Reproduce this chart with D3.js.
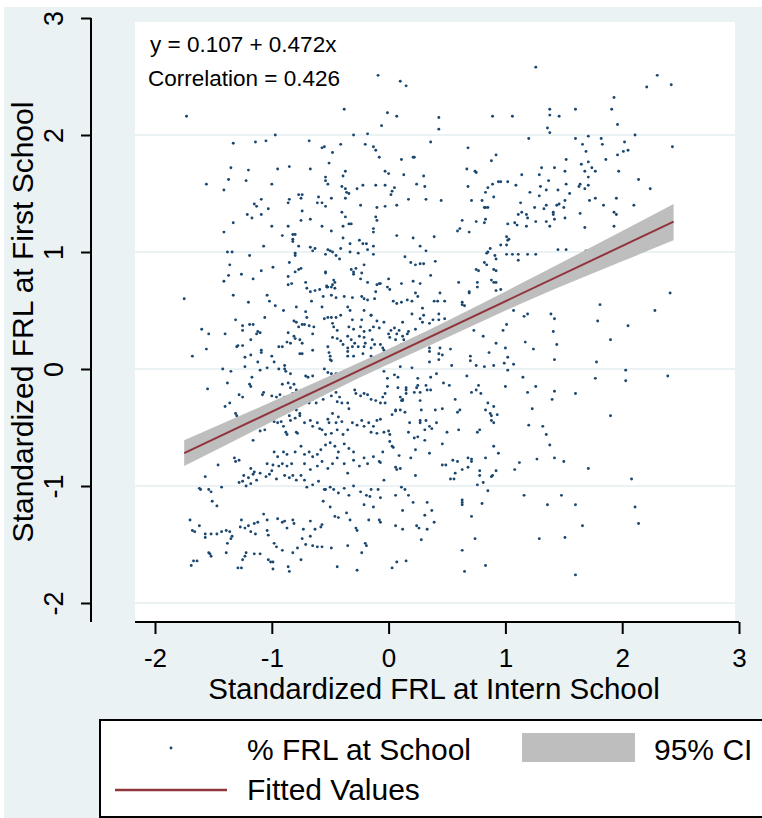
<!DOCTYPE html>
<html>
<head>
<meta charset="utf-8">
<script src="https://cdn.jsdelivr.net/npm/d3@7"></script>
<style>
  body { margin: 0; background: #fff; }
  text { font-family: "Liberation Sans", Arial, sans-serif; fill: #000; }
</style>
</head>
<body>
<div id="viz"></div>
<script>
// tick values
var xTicks = [-2, -1, 0, 1, 2, 3];
var yTicks = [-2, -1, 0, 1, 2, 3];
var gridTicks = [-2, -1, 0, 1, 2];

// fitted line  y = 0.107 + 0.472x
var fitX = [-1.75, 2.44];
var fitY = [-0.719, 1.259];

// 95% CI band
var ciX  = [-1.75, -1.0, -0.25, 0.5, 1.25, 2.0, 2.44];
var ciLo = [-0.83, -0.45, -0.075, 0.27, 0.61, 0.92, 1.10];
var ciHi = [-0.61, -0.28, 0.055, 0.41, 0.79, 1.18, 1.41];

var annotations = ['y = 0.107 + 0.472x', 'Correlation = 0.426'];
var legendLabels = ['% FRL at School', '95% CI', 'Fitted Values'];

// % FRL at school (intern school, first school), standardized
var points = [
[-1.73,2.16],[-0.38,2.22],[-0.97,2.0],[-0.30,2.0],[-1.33,1.93],[-1.14,1.94],[-1.05,1.95],[-0.68,1.95],[-0.57,1.89],[-0.55,1.90],
[-0.41,1.92],[-0.48,1.85],[-0.51,1.76],[-1.35,1.72],[-1.20,1.70],[-0.95,1.71],[-0.85,1.73],[-0.67,1.71],[-0.37,1.69],[-0.39,1.65],
[-1.37,1.62],[-1.22,1.61],[-1.56,1.58],[-1.0,1.58],[-0.54,1.64],[-0.54,1.61],[-0.52,1.58],[-1.41,1.53],[-0.40,1.56],[-0.37,1.54],
[-0.36,1.51],[-0.34,1.50],[-0.27,1.54],[-0.77,1.49],[-0.74,1.49],[-1.09,1.45],[-1.15,1.41],[-1.13,1.39],[-1.03,1.37],[-0.86,1.42],
[-0.85,1.45],[-0.75,1.46],[-0.60,1.47],[-0.61,1.42],[-0.57,1.42],[-0.54,1.39],[-0.49,1.46],[-0.37,1.46],[-1.21,1.32],[-1.09,1.32],
[-1.17,1.29],[-1.33,1.25],[-0.74,1.35],[-0.75,1.27],[-0.67,1.28],[-0.40,1.34],[-0.37,1.30],[-1.0,1.22],[-0.86,1.22],[-0.57,1.22],
[-0.39,1.22],[-0.34,1.24],[-0.32,1.24],
[1.26,2.58],[-0.09,2.51],[0.10,2.46],[0.15,2.42],[-0.01,2.19],[0.07,2.16],[-0.06,2.08],[0.43,2.15],[0.43,2.05],[0.89,2.16],
[1.06,2.16],[1.38,2.22],[1.38,2.17],[1.46,2.16],[1.36,2.06],[1.38,2.02],[-0.18,2.01],[-0.20,1.92],[-0.13,1.90],[-0.11,1.87],
[-0.08,1.81],[0.36,1.94],[0.68,1.89],[1.20,1.97],[0.11,1.79],[0.21,1.81],[0.22,1.81],[0.92,1.83],[0.88,1.78],[-0.03,1.69],
[0.0,1.67],[0.13,1.66],[0.30,1.65],[0.67,1.71],[0.74,1.69],[0.75,1.68],[1.14,1.66],[1.31,1.72],[1.42,1.72],[1.29,1.66],
[1.37,1.61],[-0.22,1.57],[-0.11,1.57],[-0.03,1.57],[0.05,1.55],[0.03,1.52],[0.02,1.49],[0.24,1.58],[0.31,1.56],[0.68,1.56],
[0.89,1.58],[0.94,1.60],[0.96,1.60],[1.02,1.60],[1.09,1.57],[0.85,1.55],[0.83,1.51],[0.90,1.47],[1.21,1.51],[1.30,1.56],
[1.35,1.53],[1.45,1.53],[1.29,1.48],[0.17,1.45],[0.32,1.45],[0.45,1.44],[-0.24,1.40],[-0.10,1.38],[-0.03,1.39],[0.07,1.40],
[-0.11,1.30],[-0.10,1.27],[-0.13,1.20],[0.71,1.44],[0.80,1.44],[0.82,1.38],[0.83,1.38],[0.85,1.38],[0.83,1.28],[0.82,1.25],
[0.75,1.26],[0.63,1.27],[0.61,1.20],[1.13,1.42],[1.25,1.38],[1.33,1.37],[1.35,1.40],[1.44,1.40],[1.46,1.41],[1.41,1.34],
[1.41,1.32],[1.11,1.32],[1.14,1.34],[1.18,1.32],[1.19,1.29],[1.02,1.24],[1.08,1.25],[1.10,1.23],[1.18,1.22],[1.26,1.26],
[1.35,1.26],[1.38,1.22],[1.42,1.28],
[2.30,2.51],[2.21,2.41],[2.42,2.43],[1.93,2.32],[1.60,2.22],[1.91,2.22],[1.96,2.09],[2.11,2.0],[1.60,1.97],[1.71,1.99],
[1.82,1.97],[1.83,1.92],[1.66,1.92],[1.69,1.86],[2.02,1.94],[2.01,1.86],[2.05,1.87],[1.96,1.83],[2.43,1.90],[1.52,1.79],
[1.86,1.79],[1.71,1.77],[1.65,1.75],[1.74,1.72],[1.77,1.69],[1.51,1.69],[1.68,1.69],[1.97,1.69],[1.71,1.64],[2.14,1.62],
[1.52,1.58],[1.64,1.58],[1.63,1.56],[1.71,1.57],[1.68,1.54],[2.24,1.54],[1.55,1.50],[1.72,1.44],[1.77,1.46],[1.95,1.46],
[1.51,1.44],[1.84,1.40],[2.10,1.40],[1.50,1.38],[1.64,1.33],[1.93,1.34],[1.95,1.32],[1.51,1.29],[1.68,1.21],[1.93,1.22],
[1.52,1.02],[1.69,1.01],[2.41,0.65],[1.81,0.55],[2.28,0.50],[1.79,0.41],[2.05,0.37],
[1.90,0.25],[1.78,0.06],[2.03,-0.01],[1.77,-0.08],[2.03,-0.10],[2.39,-0.06],[1.60,-0.21],[1.90,-0.40],[1.50,-0.79],[1.71,-0.85],
[2.08,-0.94],[1.48,-1.08],[1.60,-1.16],[2.11,-1.18],[2.14,-1.32],[1.66,-1.34],[1.51,-1.44],[1.60,-1.76],
[1.00,-0.15],[1.26,-0.15],[1.19,-0.20],[1.42,-0.19],[1.40,-0.26],[1.23,-0.34],[1.20,-0.48],[1.32,-0.49],[1.35,-0.56],[1.38,-0.65],
[1.27,-0.77],[1.42,-0.76],[1.12,-0.80],[1.08,-0.86],[1.16,-1.08],[1.36,-1.16],[1.29,-1.45],[0.77,-0.14],[0.52,-0.14],[0.47,-0.12],
[0.75,-0.18],[0.71,-0.20],[0.79,-0.21],[0.57,-0.26],[0.85,-0.29],[0.90,-0.32],[0.83,-0.35],[0.87,-0.38],[0.88,-0.40],[0.93,-0.39],
[0.88,-0.44],[0.90,-0.46],[0.61,-0.35],[0.59,-0.37],[0.46,-0.34],[0.40,-0.35],[0.60,-0.52],[0.50,-0.54],[0.78,-0.52],[0.76,-0.54],
[0.46,-0.64],[0.90,-0.66],[0.94,-0.72],[0.83,-0.76],[0.68,-0.76],[0.71,-0.77],[0.71,-0.79],[0.55,-0.78],[0.59,-0.79],[0.46,-0.82],
[0.49,-0.82],[0.68,-0.84],[0.63,-0.86],[0.57,-0.89],[0.53,-0.94],[0.56,-0.94],[0.78,-0.87],[0.78,-0.91],[0.92,-0.87],[0.88,-0.92],
[0.89,-0.91],[0.81,-0.97],[0.76,-0.99],[0.85,-1.04],[0.63,-1.12],[0.63,-1.14],[0.63,-1.16],[0.80,-1.15],[0.71,-1.26],[0.74,-1.45],
[0.63,-1.55],[0.83,-1.68],[0.65,-1.73],
[-0.01,-0.15],[0.08,-0.16],[0.15,-0.16],[0.15,-0.18],[0.25,-0.14],[0.24,-0.16],[0.32,-0.14],[-0.03,-0.21],[-0.05,-0.24],[0.10,-0.24],
[0.12,-0.26],[0.12,-0.27],[0.11,-0.27],[0.15,-0.21],[0.22,-0.20],[0.27,-0.20],[0.33,-0.18],[0.36,-0.18],[-0.03,-0.29],[0.27,-0.27],
[0.06,-0.35],[0.06,-0.36],[0.10,-0.35],[0.14,-0.37],[0.03,-0.39],[0.28,-0.35],[-0.07,-0.43],[0.18,-0.46],[0.17,-0.54],[0.27,-0.44],
[0.27,-0.46],[0.32,-0.44],[0.35,-0.49],[0.37,-0.51],[0.41,-0.46],[0.31,-0.52],[-0.04,-0.54],[0.0,-0.53],[0.01,-0.56],[0.01,-0.62],
[0.03,-0.66],[0.04,-0.67],[0.22,-0.59],[0.25,-0.58],[0.31,-0.61],[0.23,-0.69],[0.35,-0.72],[-0.05,-0.71],[0.09,-0.74],[0.19,-0.76],
[-0.07,-0.80],[0.06,-0.84],[0.07,-0.86],[0.10,-0.85],[0.23,-0.91],[-0.04,-0.95],[0.11,-1.01],[0.14,-1.03],[-0.07,-1.10],[0.06,-1.08],
[0.17,-1.08],[0.21,-1.14],[0.33,-1.14],[0.12,-1.21],[0.37,-1.21],[0.31,-1.25],[0.39,-1.31],[-0.07,-1.31],[0.06,-1.34],[0.12,-1.37],
[0.24,-1.34],[0.26,-1.36],[0.33,-1.37],[0.28,-1.46],[0.03,-1.70],[0.07,-1.65],[0.15,-1.64],
[0.07,1.14],[0.21,1.12],[0.39,1.13],[0.59,1.18],[0.69,1.17],[1.01,1.13],[1.03,1.11],[0.96,1.06],[1.01,1.06],[1.02,1.10],
[0.27,1.05],[0.32,1.01],[0.87,1.03],[0.85,1.00],[0.84,0.99],[0.14,0.96],[1.01,0.98],[1.06,0.98],[1.11,0.98],[1.19,0.98],
[1.45,1.02],[0.91,0.97],[0.92,0.94],[1.26,0.98],[1.11,0.93],[0.19,0.91],[0.23,0.89],[0.27,0.90],[0.30,0.90],[0.40,0.92],
[0.82,0.91],[0.84,0.89],[0.75,0.85],[0.77,0.84],[0.90,0.85],[0.92,0.84],[0.36,0.80],[0.0,0.77],[0.11,0.73],[0.21,0.75],
[0.27,0.73],[-0.07,0.73],[0.60,0.74],[0.76,0.74],[0.76,0.70],[0.88,0.76],[0.90,0.74],[0.92,0.74],[-0.01,0.70],[0.01,0.68],
[0.23,0.65],[0.44,0.65],[0.69,0.66],[0.69,0.65],[0.92,0.67],[0.96,0.68],[0.25,0.62],[0.04,0.58],[0.07,0.56],[0.11,0.57],
[0.16,0.59],[0.20,0.58],[0.39,0.58],[0.42,0.58],[0.48,0.58],[0.63,0.55],[0.65,0.54],[0.29,0.52],[0.20,0.47],[0.43,0.47],
[0.30,0.46],[0.27,0.43],[0.29,0.40],[0.38,0.42],[0.43,0.42],[0.35,0.39],[0.48,0.43],[0.12,0.40],[-0.04,0.40],[0.23,0.34],
[0.05,0.35],[0.09,0.33],[0.07,0.30],[0.02,0.33],[0.0,0.30],[0.01,0.27],[0.06,0.25],[0.12,0.28],[0.13,0.25],[0.16,0.30],
[0.17,0.32],[0.11,0.21],[-0.07,0.21],[-0.05,0.18],[-0.04,0.16],[0.35,0.18],[0.35,0.15],[0.44,0.18],[0.43,0.13],[0.46,0.12],
[0.53,0.17],[0.63,0.57],[0.73,0.33],[0.81,0.28],[0.70,0.11],[0.70,0.07],[0.86,0.14],[0.92,0.22],[0.98,0.33],[1.01,0.38],
[1.07,0.50],[1.00,0.18],[1.02,0.10],[1.07,0.04],[0.90,0.03],[0.99,0.05],[1.16,0.45],[1.19,0.47],[1.17,0.23],[1.24,0.17],
[1.39,0.47],[1.42,0.43],[1.41,0.32],[1.44,0.21],[1.42,0.08],[0.54,0.03],[0.75,0.03],[0.82,0.02],[0.35,0.06],[0.43,0.08],
[-0.04,-0.02],[-0.01,-0.08],[0.10,0.02],[0.20,0.01],[0.05,-0.05],[0.08,-0.07],[0.25,-0.08],[0.36,-0.07],[0.41,-0.04],[0.67,-0.06],
[1.02,-0.01],[1.15,-0.07],
[-1.41,1.17],[-0.91,1.14],[-0.82,1.15],[-0.80,1.15],[-0.82,1.11],[-0.82,1.09],[-0.49,1.18],[-0.39,1.12],[-0.25,1.10],[-0.22,1.07],
[-0.19,1.07],[-0.13,1.05],[-0.13,1.17],[-0.33,1.07],[-1.07,1.05],[-0.77,1.05],[-0.80,0.99],[-0.80,0.97],[-0.67,1.04],[-0.63,1.03],
[-0.65,1.01],[-0.52,1.02],[-0.50,1.01],[-0.48,1.00],[-0.45,0.97],[-0.42,0.94],[-0.54,0.98],[-1.38,1.0],[-1.34,1.0],[-1.19,0.97],
[-0.41,1.03],[-0.33,1.0],[-0.26,0.99],[-0.18,1.02],[-0.13,0.98],[-1.36,0.89],[-0.99,0.87],[-0.85,0.91],[-0.77,0.85],[-0.75,0.86],
[-0.80,0.83],[-0.54,0.82],[-0.54,0.83],[-0.32,0.85],[-0.30,0.83],[-0.28,0.86],[-0.21,0.89],[-1.37,0.80],[-1.41,0.75],[-1.26,0.81],
[-1.09,0.84],[-1.16,0.77],[-0.86,0.79],[-0.86,0.72],[-0.83,0.73],[-0.71,0.74],[-0.70,0.69],[-0.53,0.71],[-0.53,0.70],[-0.47,0.76],
[-0.46,0.74],[-0.48,0.72],[-0.30,0.81],[-0.24,0.77],[-0.23,0.82],[-0.18,0.74],[-0.10,0.72],[-1.75,0.60],[-1.33,0.63],[-1.04,0.63],
[-1.02,0.58],[-1.20,0.57],[-0.67,0.66],[-0.63,0.67],[-0.59,0.68],[-0.52,0.70],[-0.49,0.70],[-0.46,0.69],[-0.66,0.58],[-0.56,0.62],
[-0.49,0.63],[-0.45,0.61],[-0.38,0.62],[-0.31,0.61],[-0.23,0.62],[-0.21,0.60],[-0.18,0.59],[-0.12,0.60],[-0.11,0.66],[-0.08,0.73],
[-0.97,0.54],[-0.90,0.50],[-0.79,0.53],[-0.71,0.49],[-0.57,0.53],[-0.35,0.53],[-0.33,0.50],[-0.21,0.50],[-0.15,0.46],[-1.31,0.42],
[-1.06,0.44],[-0.81,0.41],[-0.79,0.40],[-0.77,0.36],[-0.74,0.38],[-0.72,0.38],[-0.68,0.37],[-0.64,0.36],[-0.70,0.44],[-0.55,0.43],
[-0.52,0.44],[-0.49,0.44],[-0.45,0.44],[-0.41,0.46],[-0.48,0.39],[-0.47,0.36],[-0.44,0.33],[-0.31,0.42],[-0.23,0.42],[-0.15,0.46],
[-0.10,0.41],[-0.34,0.36],[-0.30,0.34],[-0.24,0.36],[-0.21,0.32],[-0.16,0.33],[-0.13,0.36],[-0.08,0.35],[-1.60,0.34],[-1.54,0.30],
[-1.40,0.30],[-1.25,0.37],[-1.25,0.33],[-1.19,0.38],[-1.16,0.38],[-1.12,0.32],[-1.13,0.30],[-1.10,0.31],[-0.86,0.31],[-1.18,0.25],
[-0.81,0.28],[-0.80,0.26],[-0.76,0.25],[-0.87,0.23],[-0.84,0.22],[-0.74,0.22],[-0.65,0.30],[-0.48,0.27],[-0.44,0.26],[-0.41,0.24],
[-0.35,0.28],[-0.32,0.25],[-0.29,0.22],[-0.25,0.28],[-0.21,0.27],[-0.20,0.22],[-0.14,0.25],[-0.12,0.21],[-0.52,0.19],[-0.39,0.21],
[-0.35,0.18],[-0.31,0.19],[-0.26,0.19],[-0.21,0.19],[-0.15,0.18],[-1.56,0.17],[-1.30,0.19],[-1.29,0.20],[-1.25,0.20],[-1.09,0.16],
[-1.09,0.14],[-0.94,0.19],[-0.91,0.19],[-0.76,0.13],[-0.74,0.13],[-0.65,0.16],[-0.51,0.14],[-0.50,0.11],[-0.50,0.08],[-0.49,0.07],
[-0.35,0.15],[-0.35,0.11],[-0.30,0.11],[-0.22,0.13],[-0.15,0.11],[-1.68,0.11],[-1.23,0.10],[-1.18,0.12],[-1.12,0.06],[-1.0,0.11],
[-0.98,0.06],[-1.04,0.01],[-0.89,0.03],[-0.89,0.0],[-0.88,-0.02],[-0.84,-0.04],[-0.94,0.0],[-1.42,0.0],[-1.35,-0.02],[-1.23,0.02],
[-1.17,-0.07],[-1.10,-0.01],[-0.71,-0.06],[-0.69,-0.07],[-0.65,-0.06],[-0.55,0.0],[-0.52,-0.03],[-0.49,-0.04],[-0.45,-0.04],
[-1.55,-0.17],[-1.38,-0.12],[-1.28,-0.22],[-1.25,-0.24],[-1.19,-0.13],[-1.18,-0.15],[-1.36,-0.29],[-1.40,-0.32],[-1.31,-0.38],[-1.30,-0.40],
[-1.08,-0.22],[-1.07,-0.20],[-1.00,-0.23],[-0.96,-0.24],[-0.93,-0.22],[-0.89,-0.24],[-0.91,-0.13],[-0.86,-0.12],[-0.84,-0.16],[-0.81,-0.13],
[-0.79,-0.18],[-0.82,-0.21],[-0.98,-0.33],[-0.92,-0.34],[-0.88,-0.32],[-0.85,-0.30],[-0.83,-0.26],[-0.79,-0.35],[-0.76,-0.38],[-0.78,-0.30],
[-0.72,-0.28],[-0.68,-0.29],[-0.65,-0.26],[-0.62,-0.29],[-0.57,-0.22],[-0.56,-0.26],[-0.49,-0.23],[-0.45,-0.20],[-0.42,-0.24],[-0.44,-0.28],
[-0.40,-0.29],[-0.35,-0.29],[-0.34,-0.34],[-0.29,-0.18],[-0.28,-0.21],[-0.24,-0.23],[-0.21,-0.21],[-0.18,-0.22],[-0.15,-0.26],[-0.11,-0.27],
[-0.07,-0.29],[-1.16,-0.61],[-1.07,-0.47],[-1.06,-0.52],[-1.10,-0.53],[-0.98,-0.45],[-0.95,-0.46],[-0.92,-0.45],[-0.90,-0.49],[-0.85,-0.40],
[-0.84,-0.44],[-0.80,-0.42],[-0.76,-0.40],[-0.88,-0.54],[-0.87,-0.56],[-0.79,-0.54],[-0.78,-0.55],[-0.72,-0.46],[-0.67,-0.44],[-0.65,-0.49],
[-0.61,-0.46],[-0.59,-0.51],[-0.52,-0.43],[-0.51,-0.46],[-0.48,-0.38],[-0.45,-0.46],[-0.43,-0.41],[-0.40,-0.45],[-0.57,-0.52],[-0.54,-0.56],
[-0.49,-0.55],[-0.44,-0.52],[-0.39,-0.56],[-0.35,-0.52],[-0.31,-0.46],[-0.27,-0.48],[-0.23,-0.44],[-0.21,-0.49],[-0.17,-0.46],[-0.13,-0.49],
[-0.10,-0.44],[-0.15,-0.54],[-0.10,-0.55],[-1.46,-0.82],[-1.57,-0.92],[-1.62,-1.02],[-1.61,-1.03],[-1.54,-1.03],[-1.52,-1.05],[-1.51,-1.13],
[-1.47,-1.17],[-1.43,-1.01],[-1.28,-0.97],[-1.25,-0.96],[-1.22,-1.00],[-1.18,-0.98],[-1.31,-0.79],[-1.28,-0.78],[-1.32,-0.76],[-1.18,-0.85],
[-1.15,-0.88],[-1.24,-0.91],[-1.20,-0.93],[-1.16,-0.90],[-1.13,-0.95],[-1.10,-0.89],[-1.05,-0.92],[-1.02,-0.90],[-1.00,-0.87],[-0.96,-0.94],
[-1.04,-0.81],[-0.99,-0.82],[-0.94,-0.83],[-0.91,-0.81],[-0.87,-0.83],[-0.83,-0.81],[-0.89,-0.91],[-0.85,-0.93],[-0.82,-0.91],[-0.79,-0.95],
[-0.75,-0.91],[-0.98,-0.71],[-0.95,-0.75],[-0.90,-0.71],[-0.87,-0.73],[-0.80,-0.71],[-0.75,-0.66],[-0.72,-0.73],[-0.68,-0.71],[-0.65,-0.75],
[-0.61,-0.73],[-0.58,-0.69],[-0.72,-0.81],[-0.67,-0.86],[-0.61,-0.83],[-0.57,-0.79],[-0.52,-0.85],[-0.48,-0.81],[-0.54,-0.65],[-0.50,-0.63],
[-0.46,-0.66],[-0.43,-0.71],[-0.38,-0.64],[-0.34,-0.68],[-0.30,-0.71],[-0.44,-0.76],[-0.38,-0.81],[-0.35,-0.89],[-0.30,-0.78],[-0.25,-0.83],
[-0.21,-0.76],[-0.18,-0.81],[-0.13,-0.75],[-0.08,-0.79],[-0.50,-1.01],[-0.47,-1.03],[-0.43,-1.06],[-0.38,-1.02],[-0.34,-1.08],[-0.30,-1.00],
[-0.24,-1.05],[-0.19,-1.08],[-0.15,-1.03],[-0.09,-1.03],[-0.72,-0.95],[-0.70,-1.01],[-0.65,-0.99],[-0.60,-0.96],[-0.55,-1.03],[-1.70,-1.29],
[-1.68,-1.38],[-1.66,-1.39],[-1.62,-1.34],[-1.57,-1.41],[-1.57,-1.44],[-1.52,-1.41],[-1.47,-1.41],[-1.43,-1.39],[-1.39,-1.38],[-1.36,-1.39],
[-1.34,-1.43],[-1.35,-1.45],[-1.26,-1.29],[-1.27,-1.35],[-1.23,-1.36],[-1.20,-1.34],[-1.18,-1.39],[-1.14,-1.41],[-1.15,-1.32],[-1.12,-1.31],
[-1.07,-1.24],[-1.04,-1.29],[-1.04,-1.38],[-1.03,-1.42],[-0.95,-1.28],[-0.91,-1.31],[-0.89,-1.30],[-0.87,-1.36],[-0.82,-1.29],[-0.81,-1.32],
[-0.98,-1.49],[-0.96,-1.52],[-0.91,-1.55],[-1.38,-1.49],[-1.53,-1.58],[-1.52,-1.60],[-1.54,-1.57],[-1.67,-1.64],[-1.64,-1.64],[-1.69,-1.68],
[-1.39,-1.57],[-1.22,-1.57],[-1.23,-1.60],[-1.25,-1.63],[-1.10,-1.58],[-1.15,-1.58],[-1.03,-1.63],[-1.01,-1.65],[-0.99,-1.65],[-0.99,-1.71],
[-1.29,-1.70],[-1.26,-1.70],[-0.86,-1.69],[-0.85,-1.73],[-0.82,-1.57],[-0.78,-1.53],[-0.75,-1.63],[-0.71,-1.50],[-0.65,-1.51],[-0.61,-1.52],
[-0.57,-1.52],[-0.74,-1.45],[-0.67,-1.43],[-0.63,-1.37],[-0.57,-1.33],[-0.58,-1.35],[-0.49,-1.53],[-0.44,-1.69],[-0.35,-1.51],[-0.27,-1.38],
[-0.23,-1.57],[-0.20,-1.49],[-0.19,-1.51],[-0.27,-1.72],[-0.73,-1.37],[-0.67,-1.30],[-0.54,-1.03],[-0.50,-1.18],[-0.56,-1.13],[-0.46,-1.26],
[-0.43,-1.27],[-0.36,-1.23],[-0.33,-1.29],[-0.28,-1.36],[-0.21,-1.16],[-0.17,-1.29],[-0.16,-1.09],[-0.08,-1.29],[-0.13,-1.18]
];

var W = 762, H = 818;
var navy = '#1a476f', maroon = '#90353b', band = '#bebebe';

var x = d3.scaleLinear().domain([-2, 3]).range([155, 739]);
var y = d3.scaleLinear().domain([-2, 3]).range([603, 18]);
var fmt = function(d) { return String(d); };

var svg = d3.select('#viz').append('svg')
    .attr('width', W)
    .attr('height', H);

// graph background + plot region
svg.append('rect').attr('x', 4).attr('y', 7).attr('width', W - 4).attr('height', H - 7)
    .attr('fill', '#eaf2f3');
svg.append('rect').attr('x', 135).attr('y', 22).attr('width', 600).attr('height', 600)
    .attr('fill', '#fff');

// gridlines
svg.append('g').selectAll('line')
    .data(gridTicks)
    .enter()
    .append('line')
    .attr('x1', 135).attr('x2', 735)
    .attr('y1', function(d) { return y(d); })
    .attr('y2', function(d) { return y(d); })
    .attr('stroke', '#e4eef1')
    .attr('stroke-width', 1.6);

// scatter
svg.append('g').selectAll('circle')
    .data(points)
    .enter()
    .append('circle')
    .attr('cx', function(d) { return x(d[0]); })
    .attr('cy', function(d) { return y(d[1]); })
    .attr('r', 1.45)
    .attr('fill', navy);

// CI band
var area = d3.area()
    .x(function(d, i) { return x(ciX[i]); })
    .y0(function(d, i) { return y(ciLo[i]); })
    .y1(function(d, i) { return y(ciHi[i]); })
    .curve(d3.curveMonotoneX);
svg.append('path')
    .datum(ciX)
    .attr('d', area)
    .attr('fill', band);

// fitted line
var line = d3.line()
    .x(function(d, i) { return x(fitX[i]); })
    .y(function(d, i) { return y(fitY[i]); });
svg.append('path')
    .datum(fitX)
    .attr('d', line)
    .attr('fill', 'none')
    .attr('stroke', maroon)
    .attr('stroke-width', 2);

// y axis
var yAxis = svg.append('g')
    .attr('transform', 'translate(91,0)')
    .call(d3.axisLeft(y).tickValues(yTicks).tickFormat(fmt).tickSize(10).tickSizeOuter(0));
yAxis.select('.domain').remove();
yAxis.selectAll('line').attr('stroke', '#000').attr('stroke-width', 2);
yAxis.selectAll('text')
    .attr('x', null).attr('dy', null)
    .attr('transform', 'translate(-28,0) rotate(-90)')
    .attr('text-anchor', 'middle')
    .style('font-size', '27px');
yAxis.append('line')
    .attr('x1', 0).attr('x2', 0)
    .attr('y1', y(3)).attr('y2', 622)
    .attr('stroke', '#000').attr('stroke-width', 2);

// x axis
var xAxis = svg.append('g')
    .attr('transform', 'translate(0,622)')
    .call(d3.axisBottom(x).tickValues(xTicks).tickFormat(fmt).tickSize(12).tickSizeOuter(0));
xAxis.select('.domain').remove();
xAxis.selectAll('line').attr('stroke', '#000').attr('stroke-width', 2);
xAxis.selectAll('text')
    .attr('y', 45).attr('dy', null)
    .style('font-size', '26px');
xAxis.append('line')
    .attr('x1', 135).attr('x2', x(3))
    .attr('y1', 0).attr('y2', 0)
    .attr('stroke', '#000').attr('stroke-width', 2);

svg.selectAll('.tick text').attr('fill', '#000');

// axis titles
svg.append('text')
    .attr('x', 434).attr('y', 699)
    .attr('text-anchor', 'middle')
    .style('font-size', '29.5px')
    .text('Standardized FRL at Intern School');
svg.append('text')
    .attr('transform', 'translate(33,322) rotate(-90)')
    .attr('text-anchor', 'middle')
    .style('font-size', '30px')
    .text('Standardized FRL at First School');

// equation / correlation
svg.selectAll('.note')
    .data(annotations)
    .enter()
    .append('text')
    .attr('class', 'note')
    .attr('x', function(d, i) { return i ? 148 : 150; })
    .attr('y', function(d, i) { return 52 + i * 34; })
    .style('font-size', '22.5px')
    .text(function(d) { return d; });

// legend
var lg = svg.append('g');
lg.append('rect')
    .attr('x', 100).attr('y', 720).attr('width', 700).attr('height', 97)
    .attr('fill', '#fff').attr('stroke', '#000').attr('stroke-width', 2);
lg.append('circle').attr('cx', 171).attr('cy', 748).attr('r', 1.45).attr('fill', navy);
lg.append('rect').attr('x', 522).attr('y', 733).attr('width', 113).attr('height', 29).attr('fill', band);
lg.append('line').attr('x1', 115).attr('x2', 227).attr('y1', 790).attr('y2', 790)
    .attr('stroke', maroon).attr('stroke-width', 2.5);
lg.selectAll('text')
    .data(legendLabels)
    .enter()
    .append('text')
    .attr('x', function(d, i) { return i === 1 ? 654 : 247; })
    .attr('y', function(d, i) { return i === 2 ? 800 : 760; })
    .style('font-size', '30px')
    .text(function(d) { return d; });
</script>
</body>
</html>
